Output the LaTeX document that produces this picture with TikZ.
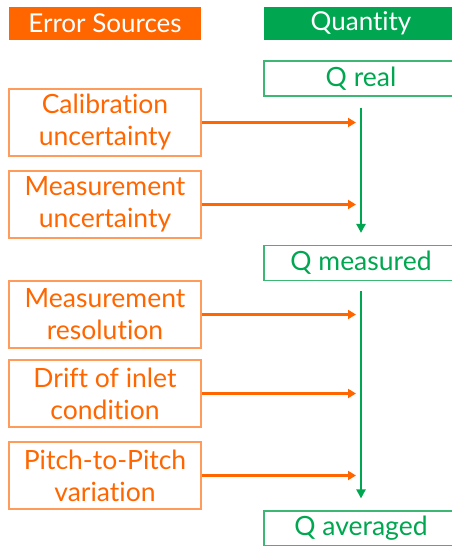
\documentclass[tikz,border=0pt]{standalone}
\usepackage{fontspec}
\setmainfont{Lato}[Ligatures=NoCommon]
\usetikzlibrary{positioning}
\usetikzlibrary{arrows.meta}
\definecolor{georange}{HTML}{FF6600}
\definecolor{georangelight}{HTML}{FF9C5C}
\definecolor{gegreen}{HTML}{00A650}
\definecolor{gegreenlight}{HTML}{3DB874}

\begin{document}
\begin{tikzpicture}[x=1pt,y=-1pt
  ,head/.style={minimum width=192pt,minimum height=33pt,inner sep=0pt,text=white,font=\fontsize{26}{30}\selectfont}
  ,src/.style={draw=georangelight,line width=1.2pt,text=georange,minimum width=192pt,minimum height=67pt,inner sep=0pt,align=center,font=\fontsize{26.5}{32}\selectfont}
  ,qty/.style={draw=gegreenlight,line width=1.2pt,text=gegreen,minimum width=194pt,minimum height=35pt,inner sep=0pt,font=\fontsize{26.5}{30}\selectfont}
  ]
  \clip (0,0) rectangle (452,546);
  \node[head,fill=georange] (hsrc) at (105,23.5) {Error Sources};
  \node[head,fill=gegreen,minimum width=194pt] (hqty) at (361,23.5) {Quantity};

  \node[qty] (qreal) at (361,78.5) {Q real};
  \node[qty] (qmeas) at (361,263) {Q measured};
  \node[qty] (qavg) at (361,528.5) {Q averaged};

  \node[src] (calib) at (105,122.5) {Calibration\\uncertainty};
  \node[src] (meas) at (105,204.5) {Measurement\\uncertainty};
  \node[src] (resol) at (105,314.5) {Measurement\\resolution};
  \node[src] (drift) at (105,393.5) {Drift of inlet\\condition};
  \node[src] (pitch) at (105,475.5) {Pitch-to-Pitch\\variation};

  \coordinate (g1a) at ([yshift=-11pt]qreal.south);
  \coordinate (g1b) at ([yshift=12pt]qmeas.north);
  \coordinate (g2a) at ([yshift=-10pt]qmeas.south);
  \coordinate (g2b) at ([yshift=12pt]qavg.north);
  \draw[gegreen,line width=2.3pt,-{Triangle[length=9pt,width=9pt]}] (g1a) -- (g1b);
  \draw[gegreen,line width=2.3pt,-{Triangle[length=9pt,width=9pt]}] (g2a) -- (g2b);

  \foreach \s in {calib,meas,resol,drift,pitch}
    \draw[georange,line width=3pt,-{Triangle[length=8pt,width=9pt]}] (\s.east) -- (\s.east -| 356,0);
\end{tikzpicture}
\end{document}
